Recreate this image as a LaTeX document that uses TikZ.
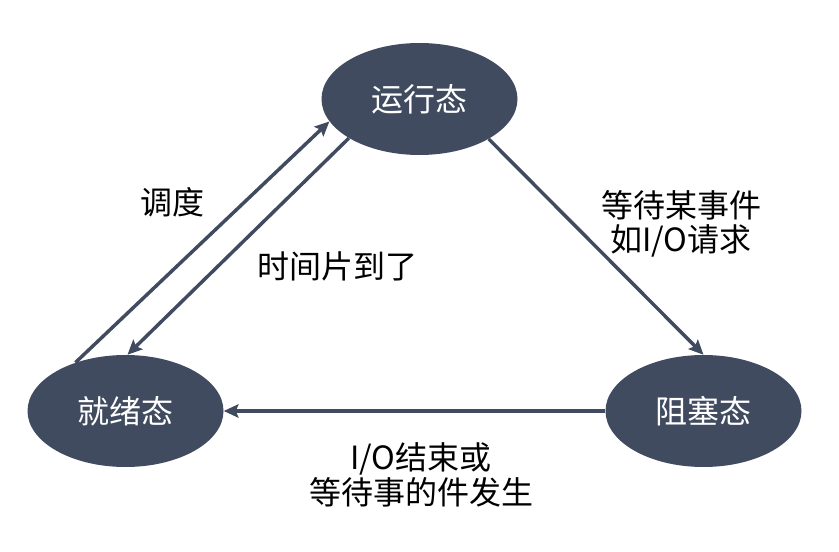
\documentclass[tikz,border=0pt]{standalone}
\usepackage{fontspec}
\setmainfont{Noto Sans CJK SC}
\usetikzlibrary{shapes.geometric,arrows.meta}
\definecolor{slate}{RGB}{65,75,95}
\begin{document}
\begin{tikzpicture}[x=0.75pt,y=-0.75pt,
  font=\fontsize{24}{26}\selectfont,
  state/.style={ellipse,fill=slate,text=white,inner sep=0pt,
    minimum width=147pt,minimum height=84pt},
  trans/.style={draw=slate,line width=2.6pt,
    -{Stealth[length=11pt,width=10pt,inset=2pt]}},
  lbl/.style={align=center,text=black}]
  \useasboundingbox (0,0) rectangle (839,552);
  % the three process states
  \node[state] (run) at (419.5,99) {运行态};
  \node[state] (ready) at (125.5,411) {就绪态};
  \node[state] (blocked) at (703.5,411) {阻塞态};
  % transitions
  \draw[trans] (ready.136) -- (run.194);
  \draw[trans] (run.209) -- (ready.88);
  \draw[trans] (run.330) -- (blocked.90);
  \draw[trans] (blocked.180) -- (ready.0);
  % labels
  \node[lbl] (dispatch) at (172,202) {调度};
  \node[lbl] (timeout) at (337,266) {时间片到了};
  \node[lbl] (wait) at (681,224) {等待某事件\\如I/O请求};
  \node[lbl] (wake) at (421,475) {I/O结束或\\等待事的件发生};
\end{tikzpicture}
\end{document}
